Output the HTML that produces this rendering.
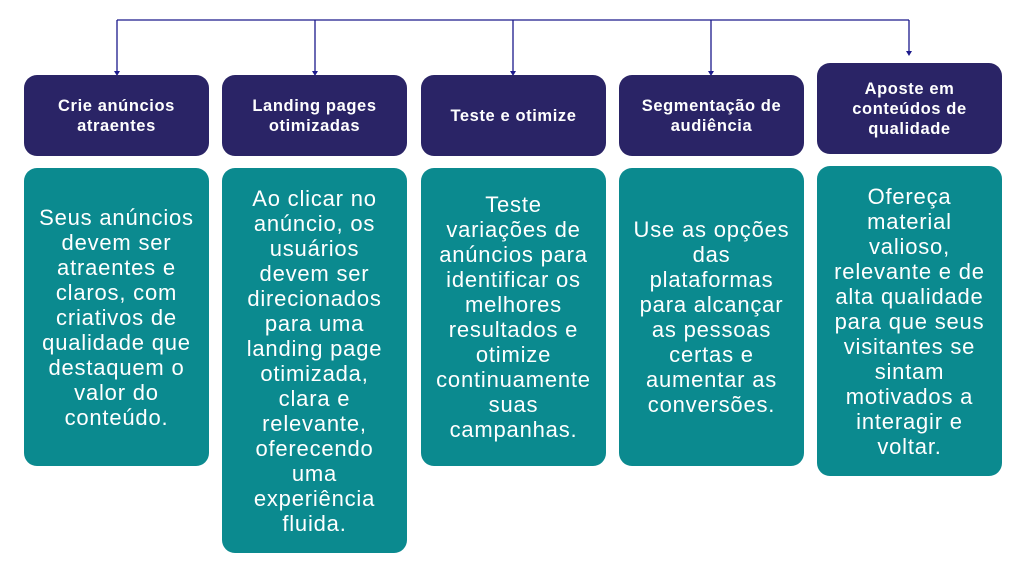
<!DOCTYPE html>
<html><head><meta charset="utf-8"><style>
body{margin:0;width:1024px;height:580px;background:#fff;position:relative;font-family:"Liberation Sans",sans-serif;overflow:hidden}
.h,.b{position:absolute;display:flex;align-items:center;justify-content:center;text-align:center;color:#fff;border-radius:13px;white-space:nowrap}
.h{background:#2a2466;font-weight:bold;font-size:16.5px;line-height:20px;letter-spacing:0.6px}
.b{background:#0b8a8f;font-size:22px;line-height:25px;letter-spacing:0.8px}
</style></head><body>
<svg width="1024" height="580" style="position:absolute;left:0;top:0">
<g stroke="#1c1a8c" stroke-width="1.3" fill="none">
<path d="M117 20H909"/>
<path d="M117 20V73M315 20V73M513 20V73M711 20V73M909 20V53"/>
</g>
<g fill="#1c1a8c">
<path d="M114 71L120 71L117 76Z"/><path d="M312 71L318 71L315 76Z"/><path d="M510 71L516 71L513 76Z"/><path d="M708 71L714 71L711 76Z"/><path d="M906 51L912 51L909 56Z"/>
</g>
</svg>
<div class="h" style="left:24px;top:75px;width:185px;height:81px">Crie anúncios<br>atraentes</div>
<div class="h" style="left:222px;top:75px;width:185px;height:81px">Landing pages<br>otimizadas</div>
<div class="h" style="left:421px;top:75px;width:185px;height:81px">Teste e otimize</div>
<div class="h" style="left:619px;top:75px;width:185px;height:81px">Segmentação de<br>audiência</div>
<div class="h" style="left:817px;top:63px;width:185px;height:91px">Aposte em<br>conteúdos de<br>qualidade</div>

<div class="b" style="left:24px;top:168px;width:185px;height:298px">Seus anúncios<br>devem ser<br>atraentes e<br>claros, com<br>criativos de<br>qualidade que<br>destaquem o<br>valor do<br>conteúdo.</div>
<div class="b" style="left:222px;top:168px;width:185px;height:385px">Ao clicar no<br>anúncio, os<br>usuários<br>devem ser<br>direcionados<br>para uma<br>landing page<br>otimizada,<br>clara e<br>relevante,<br>oferecendo<br>uma<br>experiência<br>fluida.</div>
<div class="b" style="left:421px;top:168px;width:185px;height:298px">Teste<br>variações de<br>anúncios para<br>identificar os<br>melhores<br>resultados e<br>otimize<br>continuamente<br>suas<br>campanhas.</div>
<div class="b" style="left:619px;top:168px;width:185px;height:298px">Use as opções<br>das<br>plataformas<br>para alcançar<br>as pessoas<br>certas e<br>aumentar as<br>conversões.</div>
<div class="b" style="left:817px;top:166px;width:185px;height:310px">Ofereça<br>material<br>valioso,<br>relevante e de<br>alta qualidade<br>para que seus<br>visitantes se<br>sintam<br>motivados a<br>interagir e<br>voltar.</div>
</body></html>
